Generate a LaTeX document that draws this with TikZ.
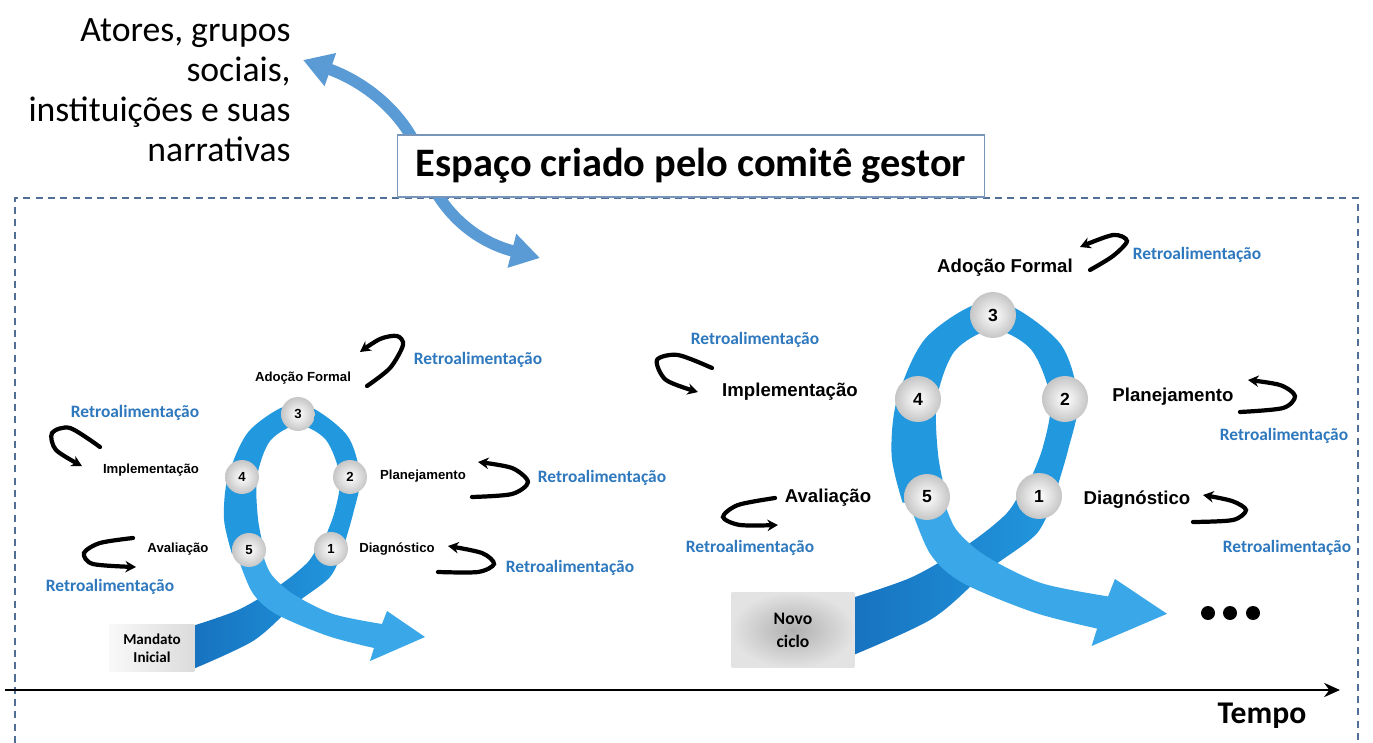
\documentclass[tikz,border=0pt]{standalone}
\usepackage{fontspec}
\setmainfont{Carlito}
\newfontfamily\arialf{Liberation Sans}
\usetikzlibrary{arrows.meta}
\definecolor{ribD}{RGB}{22,112,190}
\definecolor{ribC}{RGB}{34,152,222}
\definecolor{ribL}{RGB}{58,168,232}
\definecolor{retro}{RGB}{46,120,190}
\definecolor{arrowblue}{RGB}{91,155,213}
\definecolor{dashc}{RGB}{80,110,150}
\definecolor{boxedge}{RGB}{120,150,185}

\newcommand{\ribbonshape}{%
 \shade[left color=ribD, right color=ribC] plot[smooth] coordinates {(-112,214) (-60,196) (-18,171) (10,148) (22,128)} -- plot[smooth] coordinates {(46,133) (32,163) (-3,190) (-45,227) (-112,258)} -- cycle;
 \fill[ribC] plot[smooth] coordinates {(44,138) (55,100) (62,63) (48,20) (0,-11) (-48,16) (-70,63) (-74,105) (-66,140)} -- plot[smooth] coordinates {(-33,140) (-40,105) (-41,63) (-28,27) (0,11) (28,26) (42,63) (36,100) (22,135)} -- cycle;
 \fill[ribL] plot[smooth] coordinates {(-36,138) (-27,160) (-5,180) (35,200) (84,210)} -- (89,197) -- (127,223) -- (72,247) -- plot[smooth] coordinates {(76,234) (30,222) (-22,200) (-46,178) (-62,138)} -- cycle;
}

\begin{document}
\begin{tikzpicture}[x=0.02cm,y=-0.02cm,
  numL/.style={circle, inner color=white, outer color=gray!45, minimum size=0.68cm, inner sep=0, font=\arialf\bfseries\fontsize{7.5}{9}\selectfont},
  numR/.style={circle, inner color=white, outer color=gray!45, minimum size=0.92cm, inner sep=0, font=\arialf\bfseries\fontsize{10}{12}\selectfont},
  lblL/.style={inner sep=0, font=\arialf\bfseries\fontsize{7.5}{9}\selectfont},
  lblR/.style={inner sep=0, font=\arialf\bfseries\fontsize{10.6}{12}\selectfont},
  retrolbl/.style={inner sep=0, text=retro, font=\bfseries\fontsize{9.9}{12}\selectfont},
  fb/.style={line width=2.4pt, line cap=round, -{Stealth[length=6pt,width=6.5pt]}},
  dotnode/.style={circle, fill=black, minimum size=0.28cm, inner sep=0}
]
\useasboundingbox (0,0) rectangle (1373,743);
\fill[white] (0,0) rectangle (1373,743);

% dashed frame
\draw[dashc, line width=0.6pt, dash pattern=on 4pt off 3pt] (15,743) -- (15,198) -- (1358,198) -- (1358,743);

% curved double arrow
\coordinate (ba1) at (303,60);
\coordinate (ba2) at (540,258);
\draw[arrowblue, line width=0.23cm, {Triangle[length=0.58cm,width=0.66cm]}-{Triangle[length=0.58cm,width=0.66cm]}] (ba1) .. controls (360,80) and (405,110) .. (422,160) .. controls (435,205) and (470,240) .. (ba2);

% title box
\node[draw=boxedge, fill=white, line width=0.8pt, minimum width=11.74cm, minimum height=1.24cm, inner sep=0, font=\bfseries\fontsize{23}{28}\selectfont] (esp) at (691,166) {Espaço criado pelo comitê gestor};

% actors text
\node[anchor=east, align=right, inner sep=0, font=\fontsize{20.3}{22.7}\selectfont] (atores) at (291,90) {Atores, grupos\\sociais,\\instituições e suas\\narrativas};

% ribbons
\begin{scope}[shift={(298,414)}]
 \ribbonshape
\end{scope}
\begin{scope}[shift={(993,315)}, xscale=1.37, yscale=1.34]
 \ribbonshape
\end{scope}

% start boxes
\node[left color=gray!5, right color=gray!28, minimum width=1.7cm, minimum height=0.94cm, inner sep=0, align=center, font=\bfseries\fontsize{8.6}{10.5}\selectfont] (mand) at (152,648) {Mandato\\Inicial};
\node[inner color=gray!62, outer color=gray!22, minimum width=2.46cm, minimum height=1.52cm, inner sep=0, align=center, font=\bfseries\fontsize{10}{13}\selectfont] (novo) at (793,630) {Novo\\ciclo};

% circles left
\node[numL] (L3) at (298,414) {3};
\node[numL] (L4) at (242,477) {4};
\node[numL] (L2) at (350,477) {2};
\node[numL] (L5) at (249,550) {5};
\node[numL] (L1) at (331,549) {1};
% circles right
\node[numR] (R3) at (993,315) {3};
\node[numR] (R4) at (918,399) {4};
\node[numR] (R2) at (1065,399) {2};
\node[numR] (R5) at (927,497) {5};
\node[numR] (R1) at (1039,496) {1};

% stage labels left
\node[lblL] (la) at (303,378) {Adoção Formal};
\node[lblL] (li) at (151,470) {Implementação};
\node[lblL] (lp) at (423,476) {Planejamento};
\node[lblL] (lv) at (178,549) {Avaliação};
\node[lblL] (ld) at (397,549) {Diagnóstico};
% stage labels right
\node[lblR] (ra) at (1005,268) {Adoção Formal};
\node[lblR] (ri) at (790,392) {Implementação};
\node[lblR] (rp) at (1173,397) {Planejamento};
\node[lblR] (rv) at (828,498) {Avaliação};
\node[lblR] (rd) at (1137,500) {Diagnóstico};

% retro labels
\node[retrolbl] (lra) at (478,360) {Retroalimentação};
\node[retrolbl] (lri) at (135,413) {Retroalimentação};
\node[retrolbl] (lrp) at (602,478) {Retroalimentação};
\node[retrolbl] (lrv) at (110,587) {Retroalimentação};
\node[retrolbl] (lrd) at (570,568) {Retroalimentação};
\node[retrolbl] (rri) at (755,340) {Retroalimentação};
\node[retrolbl] (rra) at (1197,255) {Retroalimentação};
\node[retrolbl] (rrp) at (1284,436) {Retroalimentação};
\node[retrolbl] (rrv) at (750,548) {Retroalimentação};
\node[retrolbl] (rrd) at (1287,548) {Retroalimentação};

% feedback arrows left
\draw[fb] plot[smooth] coordinates {(367,386) (390,368) (403,345) (397,336) (380,339) (360,352)};
\draw[fb] plot[smooth] coordinates {(100,447) (70,428) (52,433) (56,450) (82,466)};
\draw[fb] plot[smooth] coordinates {(133,538) (100,543) (84,553) (93,564) (136,567)};
\draw[fb] plot[smooth] coordinates {(472,497) (512,494) (528,482) (512,468) (478,462)};
\draw[fb] plot[smooth] coordinates {(438,572) (478,572) (494,564) (482,553) (448,546)};
% feedback arrows right
\draw[fb] plot[smooth] coordinates {(712,368) (678,355) (657,360) (666,380) (698,392)};
\draw[fb] plot[smooth] coordinates {(1090,270) (1113,256) (1127,241) (1113,235) (1080,247)};
\draw[fb] plot[smooth] coordinates {(1240,412) (1283,408) (1295,396) (1280,385) (1248,380)};
\draw[fb] plot[smooth] coordinates {(775,498) (738,505) (723,517) (740,525) (778,525)};
\draw[fb] plot[smooth] coordinates {(1193,522) (1233,520) (1246,510) (1232,501) (1203,495)};

% dots
\node[dotnode] (d1) at (1208,613) {};
\node[dotnode] (d2) at (1230,613) {};
\node[dotnode] (d3) at (1253,613) {};

% time axis
\coordinate (t0) at (5,690);
\coordinate (t1) at (1340,690);
\draw[line width=1.6pt, -{Stealth[length=9pt,width=8pt]}] (t0) -- (t1);
\node[inner sep=0, font=\bfseries\fontsize{18}{20}\selectfont] (tempo) at (1262,716) {Tempo};
\end{tikzpicture}
\end{document}
